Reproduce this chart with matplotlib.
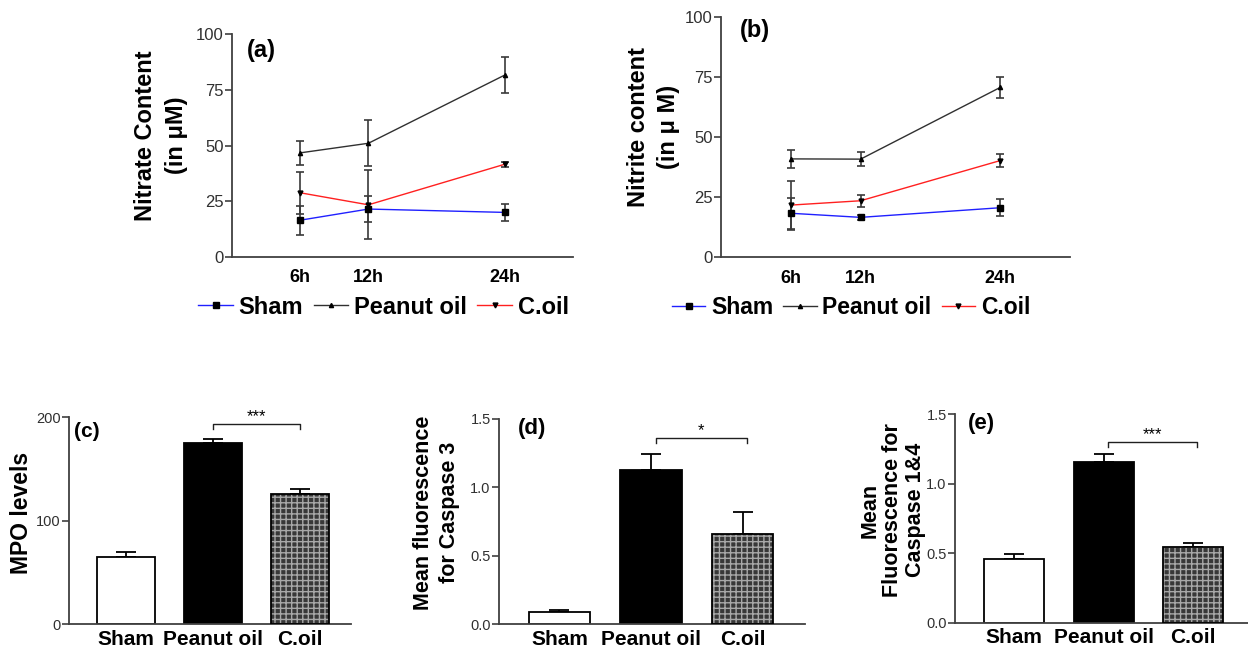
import numpy as np
import matplotlib.pyplot as plt
from matplotlib.transforms import ScaledTranslation

plt.rcParams['font.family'] = ['Liberation Sans', 'DejaVu Sans']

# time course (a) nitrate, (b) nitrite
hours = [6, 12, 24]
hour_labels = ['6h', '12h', '24h']
series = ['Sham', 'Peanut oil', 'C.oil']

nitrate_sham = [16.5, 21.5, 20.0]
nitrate_sham_err = [6.5, 6.0, 3.7]
nitrate_peanut = [46.7, 51.0, 81.6]
nitrate_peanut_err = [5.5, 10.3, 8.2]
nitrate_coil = [28.8, 23.4, 41.6]
nitrate_coil_err = [9.3, 15.5, 1.2]

nitrite_sham = [18.3, 16.6, 20.6]
nitrite_sham_err = [6.5, 1.0, 3.5]
nitrite_peanut = [40.9, 40.8, 70.6]
nitrite_peanut_err = [3.6, 3.0, 4.4]
nitrite_coil = [21.7, 23.5, 40.2]
nitrite_coil_err = [10.2, 2.6, 2.6]

# bar panels (c) MPO, (d) caspase 3, (e) caspase 1&4
groups = ['Sham', 'Peanut oil', 'C.oil']
mpo = [64.5, 174.8, 125.8]
mpo_err = [5.0, 4.6, 4.5]
casp3 = [0.088, 1.127, 0.656]
casp3_err = [0.015, 0.115, 0.163]
casp14 = [0.455, 1.157, 0.542]
casp14_err = [0.04, 0.053, 0.034]

W, H = 1248, 654
fig = plt.figure(figsize=(W / 100, H / 100), dpi=100)


def px_axes(x0, y0, x1, y1):
    # pixel box (left, top, right, bottom) -> figure axes
    return fig.add_axes([x0 / W, 1 - y1 / H, (x1 - x0) / W, (y1 - y0) / H])


def style_axes(ax, ticksize):
    for s in ['top', 'right']:
        ax.spines[s].set_visible(False)
    for s in ['left', 'bottom']:
        ax.spines[s].set_color('#404040')
        ax.spines[s].set_linewidth(1.3)
    ax.tick_params(axis='y', length=5, width=1.2, color='#404040', pad=1,
                   labelsize=ticksize, labelcolor='#303030')
    ax.tick_params(axis='x', length=0)


def line_panel(ax, data, legend_xy, legend_size):
    colors = ['#2020ff', '#303030', '#ff2020']
    markers = ['s', '^', 'v']
    sizes = [5, 3, 3.5]
    handles = []
    for (vals, errs), c, m, ms, name in zip(data, colors, markers, sizes, series):
        h = ax.errorbar(hours, vals, yerr=errs, color=c, lw=1, marker=m, ms=ms,
                        mfc='black', mec='black', ecolor='#3a3a3a',
                        elinewidth=1.2, capsize=3, capthick=1.2, label=name)
        handles.append(h.lines[0])
    ax.set_xlim(0, 30)
    ax.set_ylim(0, 100)
    ax.set_yticks([0, 25, 50, 75, 100])
    ax.set_xticks(hours)
    ax.set_xticklabels(hour_labels, fontsize=13, fontweight='bold')
    ax.tick_params(axis='x', pad=9)
    shift = ScaledTranslation(5 / 100, 0, fig.dpi_scale_trans)
    for lab in ax.get_xticklabels():
        lab.set_transform(lab.get_transform() + shift)
    style_axes(ax, 12)
    fig.legend(handles=handles, labels=series, loc='center',
               bbox_to_anchor=legend_xy, ncol=3, frameon=False,
               prop={'size': legend_size, 'weight': 'bold'},
               handlelength=1.45, handletextpad=0.25, columnspacing=0.45)


def bar_panel(ax, vals, errs, ymax, yticks, ticklabels, xmax, bracket, stars):
    x = np.arange(len(groups))
    ax.bar(x[0], vals[0], width=0.67, color='white', edgecolor='black', lw=1.3, zorder=2)
    ax.bar(x[1], vals[1], width=0.67, color='black', edgecolor='black', lw=1.3, zorder=2)
    ax.bar(x[2], vals[2], width=0.67, color='#383838', edgecolor='#a8a8a8',
           hatch='+++', lw=0, zorder=2)
    ax.bar(x[2], vals[2], width=0.67, fill=False, edgecolor='black', lw=1.3, zorder=3)
    ax.errorbar(x, vals, yerr=[np.zeros(len(errs)), errs], fmt='none',
                ecolor='black', elinewidth=1.3, capsize=7, capthick=1.3, zorder=1)
    ax.set_xlim(-0.66, xmax)
    ax.set_ylim(0, ymax)
    ax.set_yticks(yticks)
    ax.set_yticklabels(ticklabels)
    ax.set_xticks(x)
    ax.set_xticklabels(groups, fontsize=15, fontweight='bold')
    ax.tick_params(axis='x', pad=4)
    style_axes(ax, 10.5)
    # significance bracket
    x1, x2, y, d = bracket
    ax.plot([x1, x1, x2, x2], [y - d, y, y, y - d], color='#202020', lw=1)
    ax.text((x1 + x2) / 2, y, stars, ha='center', va='bottom', fontsize=12)


# (a) nitrate
ax_a = px_axes(232, 34, 573, 257)
line_panel(ax_a, [(nitrate_sham, nitrate_sham_err),
                  (nitrate_peanut, nitrate_peanut_err),
                  (nitrate_coil, nitrate_coil_err)],
           (383.5 / W, 1 - 307 / H), 17)
fig.text(161 / W, 1 - 135.7 / H, 'Nitrate Content\n(in \u03bcM)', rotation=90,
         ha='center', va='center', fontsize=17, fontweight='bold', linespacing=1.4)
fig.text(261.7 / W, 1 - 50 / H, '(a)', ha='center', va='center',
         fontsize=17, fontweight='bold')

# (b) nitrite
ax_b = px_axes(721, 16.7, 1070, 257.3)
line_panel(ax_b, [(nitrite_sham, nitrite_sham_err),
                  (nitrite_peanut, nitrite_peanut_err),
                  (nitrite_coil, nitrite_coil_err)],
           (851 / W, 1 - 308 / H), 16.5)
fig.text(653.3 / W, 1 - 126.7 / H, 'Nitrite content\n(in \u03bc M)', rotation=90,
         ha='center', va='center', fontsize=17, fontweight='bold', linespacing=1.4)
fig.text(755 / W, 1 - 30 / H, '(b)', ha='center', va='center',
         fontsize=17, fontweight='bold')

# (c) MPO
ax_c = px_axes(69, 417.3, 350.7, 624)
bar_panel(ax_c, mpo, mpo_err, 200, [0, 100, 200], ['0', '100', '200'], 2.59,
          (1.0, 2.0, 193.2, 4.8), '***')
fig.text(22 / W, 1 - 512.5 / H, 'MPO levels', rotation=90, ha='center',
         va='center', fontsize=16.5, fontweight='bold')
fig.text(87.3 / W, 1 - 431.7 / H, '(c)', ha='center', va='center',
         fontsize=15, fontweight='bold')

# (d) caspase 3
ax_d = px_axes(499, 419, 805, 624)
bar_panel(ax_d, casp3, casp3_err, 1.5, [0, 0.5, 1.0, 1.5],
          ['0.0', '0.5', '1.0', '1.5'], 2.68, (1.05, 2.05, 1.359, 0.037), '*')
fig.text(436.5 / W, 1 - 512.5 / H, 'Mean fluorescence\nfor Caspase 3', rotation=90,
         ha='center', va='center', fontsize=15.5, fontweight='bold', linespacing=1.3)
fig.text(531.7 / W, 1 - 428.3 / H, '(d)', ha='center', va='center',
         fontsize=16, fontweight='bold')

# (e) caspase 1&4
ax_e = px_axes(955, 414, 1248, 622.7)
bar_panel(ax_e, casp14, casp14_err, 1.5, [0, 0.5, 1.0, 1.5],
          ['0.0', '0.5', '1.0', '1.5'], 2.61, (1.05, 2.04, 1.301, 0.036), '***')
fig.text(892.5 / W, 1 - 510 / H, 'Mean\nFluorescence for\nCaspase 1&4', rotation=90,
         ha='center', va='center', fontsize=15.5, fontweight='bold', linespacing=1.1)
fig.text(981.7 / W, 1 - 423.3 / H, '(e)', ha='center', va='center',
         fontsize=16, fontweight='bold')

fig.savefig('out.png', dpi=100)
